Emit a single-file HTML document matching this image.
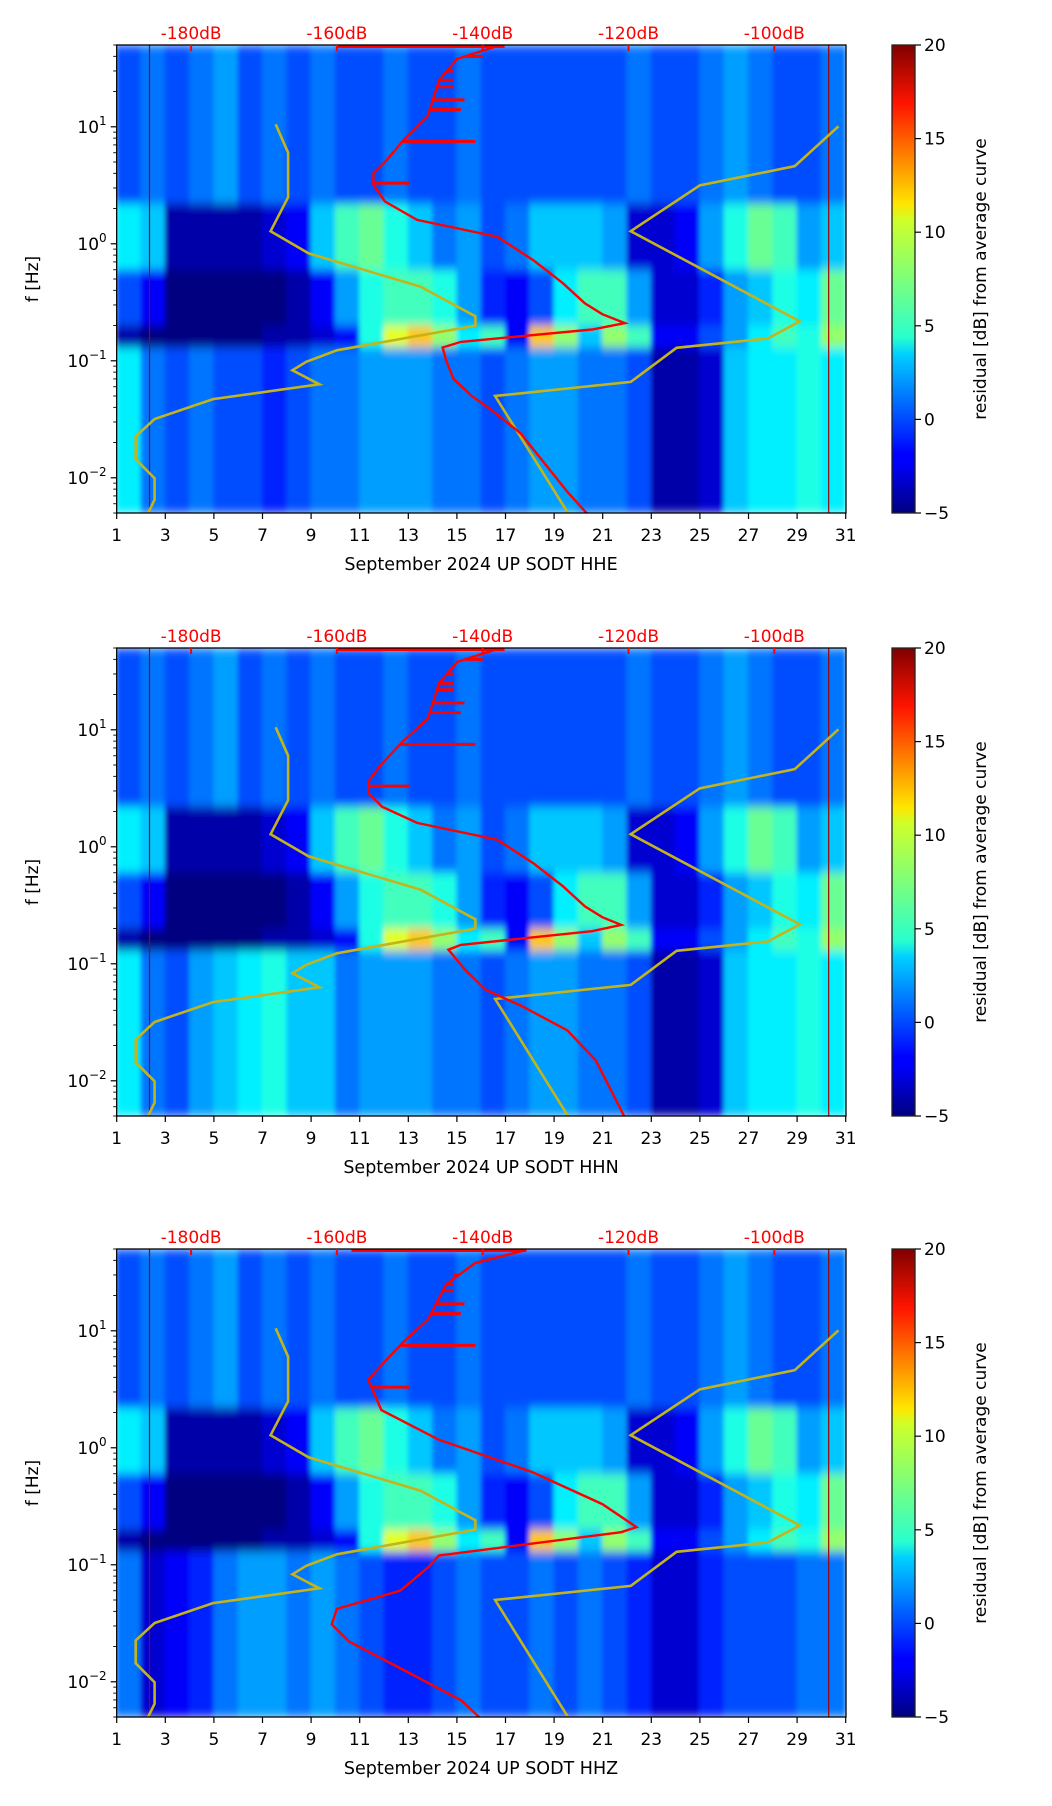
<!DOCTYPE html>
<html><head><meta charset="utf-8">
<style>
html,body{margin:0;padding:0;background:#fff;}
svg{display:block;font-family:"DejaVu Sans","Liberation Sans",sans-serif;}
</style></head>
<body>
<svg id="fig" width="1052" height="1806" viewBox="0 0 1052 1806" xmlns="http://www.w3.org/2000/svg">
<defs>
<linearGradient id="jet" x1="0" y1="1" x2="0" y2="0">
<stop offset="0" stop-color="#000080"/><stop offset="0.11" stop-color="#0000ff"/><stop offset="0.125" stop-color="#0000ff"/>
<stop offset="0.34" stop-color="#00d0ff"/><stop offset="0.375" stop-color="#29ffce"/><stop offset="0.5" stop-color="#7dff7a"/>
<stop offset="0.625" stop-color="#ceff29"/><stop offset="0.66" stop-color="#ffe500"/><stop offset="0.875" stop-color="#ff1400"/><stop offset="1" stop-color="#800000"/>
</linearGradient>
<filter id="soft" x="0" y="0" width="1" height="1"><feGaussianBlur stdDeviation="2.5 5" edgeMode="duplicate"/></filter>
</defs>
</svg>
<script>
// ---- data ----
const days = Array.from({length:30},(_,i)=>i+1);
const bandEdges = [50, 2.2, 0.6, 0.2, 0.13, 0.005];
const bandTop  = [0,1,0,1,2,0,1,0,1,0,0,1,0,0,1,0,0,0,0,0,0,1,0,0,1,2,1,0,0,1];
const bandMid  = [4,3,-4,-4,-4,-4,-3,-2,3,6,7,5,3,1,2,0,1,3,3,3,2,-3,-3,-2,2,5,7,6,2,3];
const bandLow  = [0,-2,-5,-5,-5,-5,-5,-4,-2,2,5,6,6,5,2,-1,-2,0,4,6,6,2,-3,-3,-1,2,3,5,4,7];
const bandMic  = [-4,-5,-5,-5,-5,-5,-4,-4,-3,-2,5,10,12,8,4,6,-2,12,8,3,8,6,-2,-2,0,2,4,6,5,8];
const ulpHHE   = [4,1,0,1,0,0,-1,0,1,1,2,2,2,1,1,0,1,2,2,1,1,0,-4,-4,-3,3,4,4,5,4];
const ulpHHN   = [4,1,0,2,3,4,5,3,3,1,2,2,2,1,1,0,1,2,2,1,1,0,-4,-4,-3,3,4,4,5,4];
const ulpHHZ   = [1,-3,-2,-1,1,2,2,1,2,1,0,-1,-1,0,1,0,0,1,0,1,0,-1,-3,-3,-1,0,0,0,1,1];
const dbTicks = [-180,-160,-140,-120,-100];
const cbTicks = [-5,0,5,10,15,20];
// model curves (dB, Hz)
const lowModelDb = [-168.4,-166.7,-166.7,-169.1,-163.9,-148.5,-141,-141,-160,-164.2,-166.1,-162.4,-177,-185,-187.6,-187.6,-185,-185,-185.9];
const lowModelHz = [10.5,6.0,2.5,1.28,0.83,0.43,0.24,0.20,0.123,0.098,0.083,0.063,0.047,0.0318,0.0226,0.0144,0.0099,0.0065,0.005];
const highModelDb = [-91.2,-97.2,-110.2,-119.7,-96.5,-100.9,-113.4,-119.7,-138.3,-128.3];
const highModelHz = [10.1,4.6,3.16,1.28,0.217,0.155,0.129,0.066,0.050,0.005];
// average curves (dB, Hz)
const avgHHEdb = [-138,-143.5,-146,-147.5,-150.7,-153.4,-155,-155,-153.4,-149,-138,-133,-129,-126,-123.6,-120.5,-125,-143,-145.5,-145,-144,-141.5,-138.8,-134.8,-131.6,-128.4,-125.5];
const avgHHEhz = [49,38,25,12.5,7.9,5,4,3.2,2.3,1.6,1.15,0.72,0.46,0.31,0.25,0.21,0.185,0.145,0.13,0.1,0.07,0.05,0.038,0.024,0.0135,0.0076,0.0048];
const avgHHNdb = [-138,-143.5,-146,-147.5,-151,-154,-155.7,-155.7,-153.8,-149,-138,-133,-129,-126,-123.6,-121,-125,-143,-144.7,-142.5,-139.6,-134.8,-128.4,-124.5,-120.6];
const avgHHNhz = [49,38,25,12.5,7.9,5,3.6,2.9,2.2,1.6,1.15,0.72,0.46,0.31,0.25,0.215,0.19,0.145,0.132,0.09,0.06,0.044,0.027,0.015,0.005];
const avgHHZdb = [-134,-141,-145,-147.5,-151,-154,-155.7,-153.9,-146,-133.2,-123.6,-118.9,-121,-146,-147.5,-151.3,-160,-160.7,-158.3,-153.6,-147.5,-142.9,-140.5];
const avgHHZhz = [49,38,25,12.5,7.9,5,3.8,2.1,1.17,0.62,0.33,0.21,0.19,0.12,0.095,0.06,0.042,0.031,0.022,0.0155,0.0098,0.0069,0.005];
const spikeHz = [40,30,25,22,17,14,7.5,3.3];
const spikeDb = [-140,-144,-144,-144,-142.5,-143,-141,-150];

const panels = [
  {top:45, ulp:ulpHHE, adb:avgHHEdb, ahz:avgHHEhz, ch:'HHE', topLine:[-160,-137]},
  {top:648, ulp:ulpHHN, adb:avgHHNdb, ahz:avgHHNhz, ch:'HHN', topLine:[-160,-137]},
  {top:1249, ulp:ulpHHZ, adb:avgHHZdb, ahz:avgHHZhz, ch:'HHZ', topLine:[-158,-134]}
];
const L=116.7, R=846, H=468;
const NS='http://www.w3.org/2000/svg';
const svg=document.getElementById('fig');
function mk(tag,attrs,parent){const e=document.createElementNS(NS,tag);for(const k in attrs)e.setAttribute(k,attrs[k]);(parent||svg).appendChild(e);return e;}
function jet(v){let t=(v+5)/25;t=Math.max(0,Math.min(1,t));
  const r=Math.max(0,Math.min(1,1.5-Math.abs(4*t-3))),g=Math.max(0,Math.min(1,1.5-Math.abs(4*t-2))),b=Math.max(0,Math.min(1,1.5-Math.abs(4*t-1)));
  return `rgb(${Math.round(r*255)},${Math.round(g*255)},${Math.round(b*255)})`;}
const xDay=d=>L+(d-1)*24.3;
const xDb=db=>191.1+(db+180)*7.29;
function yF(top,f){return top+(1.699-Math.log10(f))*117;}
function curveDbAt(dbArr,hzArr,f){
  for(let i=0;i<hzArr.length-1;i++){
    if(hzArr[i]>=f&&hzArr[i+1]<=f){const t=(Math.log10(hzArr[i])-Math.log10(f))/(Math.log10(hzArr[i])-Math.log10(hzArr[i+1])||1);return dbArr[i]+(dbArr[i+1]-dbArr[i])*t;}
  }
  return dbArr[0];
}

panels.forEach((p,pi)=>{
  const g=mk('g',{});
  
  
  const cid='clip'+pi;
  const cp=mk('clipPath',{id:cid},g);mk('rect',{x:L,y:p.top,width:R-L,height:H},cp);
  const hm=mk('g',{'clip-path':`url(#${cid})`},g);
  
  
  const inner=mk('g',{filter:'url(#soft)'},hm);
  mk('rect',{x:L,y:p.top,width:R-L,height:H,fill:'#00008f'},inner);
  const bands=[bandTop,bandMid,bandLow,bandMic,p.ulp];
  bands.forEach((arr,bi)=>{
    const y0=yF(p.top,bandEdges[bi]),y1=yF(p.top,bandEdges[bi+1]);
    arr.forEach((v,di)=>{
      const c=mk('rect',{x:xDay(days[di])-0.5,y:y0,width:24.3+1,height:y1-y0+0.5,fill:jet(v)},inner);
      
      
    });
  });
  [2.35,30.3].forEach(d=>{const l=mk('line',{x1:xDay(d),x2:xDay(d),y1:p.top,y2:p.top+H,stroke:'#a00000','stroke-width':1.2},hm);
    });
  [[lowModelDb,lowModelHz],[highModelDb,highModelHz]].forEach(([db,hz],k)=>{
    const pts=db.map((d,i)=>xDb(d).toFixed(1)+','+yF(p.top,hz[i]).toFixed(1)).join(' ');
    const pl=mk('polyline',{points:pts,fill:'none',stroke:'#c4b41c','stroke-width':2.6},hm);
    
    
  });
  const pts=p.adb.map((d,i)=>xDb(d).toFixed(1)+','+yF(p.top,p.ahz[i]).toFixed(1)).join(' ');
  const ac=mk('polyline',{points:pts,fill:'none',stroke:'#ff0000','stroke-width':2.4},hm);
  
  
  spikeHz.forEach((f,i)=>{
    const base=xDb(curveDbAt(p.adb,p.ahz,f));
    const s=mk('line',{x1:base,x2:xDb(spikeDb[i]),y1:yF(p.top,f),y2:yF(p.top,f),stroke:'#ff0000','stroke-width':3},hm);
    
  });
  const tl=mk('line',{x1:xDb(p.topLine[0]),x2:xDb(p.topLine[1]),y1:p.top+1.5,y2:p.top+1.5,stroke:'#ff0000','stroke-width':3},hm);
  
  const fr=mk('rect',{x:L,y:p.top,width:R-L,height:H,fill:'none',stroke:'#000','stroke-width':1.3},g);
  
  for(let d=1;d<=31;d+=2){
    const x=xDay(d);
    mk('line',{x1:x,x2:x,y1:p.top+H,y2:p.top+H+6,stroke:'#000','stroke-width':1.2},g);
    const t=mk('text',{x:x,y:p.top+H+28,'text-anchor':'middle','font-size':17,fill:'#000'},g);
    t.textContent=d;
    
  }
  const xl=mk('text',{x:481,y:p.top+H+57,'text-anchor':'middle','font-size':17.5,fill:'#000'},g);
  xl.textContent='September 2024 UP SODT  '+p.ch;
  
  dbTicks.forEach(db=>{
    const x=xDb(db);
    const tk=mk('line',{x1:x,x2:x,y1:p.top,y2:p.top+6,stroke:'#ff0000','stroke-width':2},g);
    
    const t=mk('text',{x:x,y:p.top-6,'text-anchor':'middle','font-size':17,fill:'#ff0000'},g);
    t.textContent=db+'dB';
    
  });
  for(let e=-3;e<=1;e++){for(let m=1;m<=9;m++){
    const f=m*Math.pow(10,e); if(f<0.005||f>50)continue;
    const y=yF(p.top,f);
    mk('line',{x1:L,x2:L-(m===1?6:3.5),y1:y,y2:y,stroke:'#000','stroke-width':m===1?1.2:0.9},g);
    if(m===1){
      const t=mk('text',{x:L-10,y:y+6,'text-anchor':'end','font-size':17,fill:'#000'},g);
      
      const a=mk('tspan',{},t);a.textContent='10';
      const b=mk('tspan',{'font-size':12,dy:-8},t);b.textContent=(e<0?'\u2212':'')+Math.abs(e);
    }
  }}
  const yl=mk('text',{x:0,y:0,transform:`translate(38,${p.top+H/2}) rotate(-90)`,'text-anchor':'middle','font-size':17,fill:'#000'},g);
  yl.textContent='f [Hz]';
  
  const cb=mk('rect',{x:892,y:p.top,width:23,height:H,fill:'url(#jet)',stroke:'#222','stroke-width':1.3},g);
  
  cbTicks.forEach(v=>{
    const y=p.top+H-(v+5)/25*H;
    mk('line',{x1:915,x2:921,y1:y,y2:y,stroke:'#000','stroke-width':1.2},g);
    const t=mk('text',{x:924,y:y+6,'font-size':17,fill:'#000'},g);
    t.textContent=(v<0?'\u2212':'')+Math.abs(v);
    
  });
  const cl=mk('text',{x:0,y:0,transform:`translate(986,${p.top+H/2}) rotate(-90)`,'text-anchor':'middle','font-size':17,fill:'#000'},g);
  cl.textContent='residual [dB] from average curve';
  
});
</script>
</body></html>
